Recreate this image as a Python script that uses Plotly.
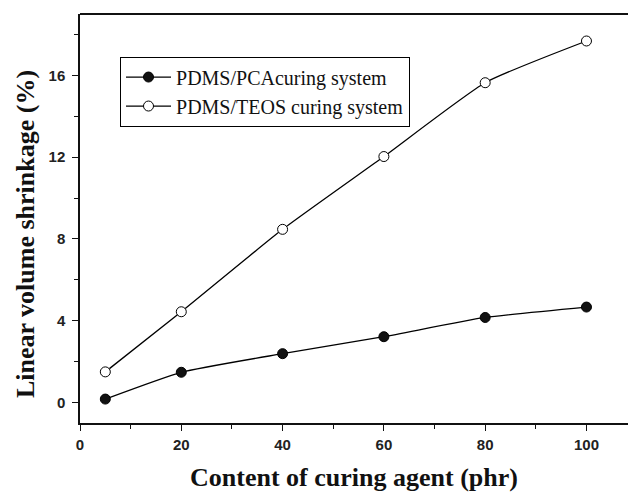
import plotly.graph_objects as go

content_phr = [5, 20, 40, 60, 80, 100]
pca_shrinkage = [0.17, 1.48, 2.39, 3.22, 4.16, 4.67]
teos_shrinkage = [1.50, 4.44, 8.47, 12.03, 15.64, 17.68]
series_names = ["PDMS/PCAcuring system", "PDMS/TEOS curing system"]
x_ticks = [0, 20, 40, 60, 80, 100]
y_ticks = [0, 4, 8, 12, 16]

fig = go.Figure()
fig.add_trace(go.Scatter(
    x=content_phr, y=pca_shrinkage, name=series_names[0], mode="lines+markers",
    line=dict(color="black", width=1.3, shape="spline", smoothing=0.5),
    marker=dict(symbol="circle", size=10, color="#111111", line=dict(color="black", width=1)),
))
fig.add_trace(go.Scatter(
    x=content_phr, y=teos_shrinkage, name=series_names[1], mode="lines+markers",
    line=dict(color="black", width=1.3, shape="spline", smoothing=0.5),
    marker=dict(symbol="circle", size=10, color="white", line=dict(color="black", width=1)),
))

tickfont = dict(family="Liberation Sans, Arial", size=15, color="#222", weight="bold")
titlefont = dict(family="Liberation Serif, Times New Roman", size=26, color="#111", weight="bold")

fig.update_layout(
    width=628, height=492,
    margin=dict(l=80, r=0, t=14, b=69),
    paper_bgcolor="white", plot_bgcolor="white",
    showlegend=True,
    legend=dict(
        x=0.073, y=0.896, xanchor="left", yanchor="top",
        bordercolor="black", borderwidth=1, bgcolor="white",
        font=dict(family="Liberation Serif, Times New Roman", size=20, color="#111"),
        tracegroupgap=0, itemsizing="trace", itemwidth=45,
    ),
    xaxis=dict(
        range=[0, 108.2], tickvals=x_ticks, showgrid=False, zeroline=False,
        showline=True, linecolor="#111", linewidth=1.5,
        ticks="outside", ticklen=6, tickwidth=1.2, tickcolor="#111",
        minor=dict(dtick=10, ticks="outside", ticklen=4, tickcolor="#111", tickwidth=1.2, showgrid=False),
        tickfont=tickfont, ticklabelstandoff=1,
        title=dict(text="Content of curing agent (phr)", font=titlefont, standoff=17),
    ),
    yaxis=dict(
        range=[-1, 19], tickvals=y_ticks, showgrid=False, zeroline=False,
        showline=True, linecolor="#111", linewidth=1.5,
        ticks="outside", ticklen=6, tickwidth=1.2, tickcolor="#111",
        minor=dict(tick0=0, dtick=2, ticks="outside", ticklen=4, tickcolor="#111", tickwidth=1.2, showgrid=False),
        tickfont=tickfont, ticklabelstandoff=4,
    ),
    shapes=[dict(type="line", xref="paper", yref="paper", x0=0, x1=1, y0=1, y1=1,
                 line=dict(color="#111", width=2))],
    annotations=[dict(text="Linear volume shrinkage (%)", textangle=-90,
                      xref="paper", yref="paper", x=-0.1004, y=0.462,
                      xanchor="center", yanchor="middle", showarrow=False, font=titlefont)],
)

fig.write_html("out.html")
